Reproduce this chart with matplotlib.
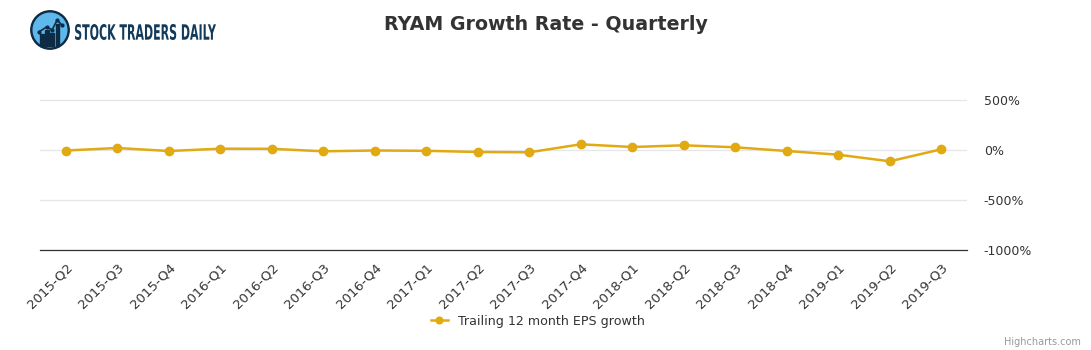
import matplotlib
matplotlib.use('Agg')
import matplotlib.pyplot as plt
from matplotlib.patches import Circle, Rectangle, PathPatch
from matplotlib.textpath import TextPath
from matplotlib.font_manager import FontProperties
from matplotlib.transforms import Affine2D
import numpy as np

## data
quarters = ['2015-Q2', '2015-Q3', '2015-Q4', '2016-Q1', '2016-Q2', '2016-Q3',
            '2016-Q4', '2017-Q1', '2017-Q2', '2017-Q3', '2017-Q4', '2018-Q1',
            '2018-Q2', '2018-Q3', '2018-Q4', '2019-Q1', '2019-Q2', '2019-Q3']
eps_growth = [-5, 20, -10, 13, 12, -13, -5, -8, -20, -23, 57, 30,
              47, 27, -10, -47, -113, 7]
y_ticks = [500, 0, -500, -1000]

line_color = '#e1aa13'
text_color = '#333333'

fig = plt.figure(figsize=(10.91, 3.5), dpi=100)
ax = fig.add_axes([40 / 1091, 100 / 350, 927 / 1091, 175 / 350])

x = np.arange(len(quarters))
ax.plot(x, eps_growth, color=line_color, lw=1.8, marker='o', ms=6,
        zorder=3, label='Trailing 12 month EPS growth')

ax.set_xlim(-0.5, len(quarters) - 0.5)
ax.set_ylim(-1000, 750)
ax.set_yticks(y_ticks)
ax.set_yticklabels(['%d%%' % v for v in y_ticks])
ax.yaxis.tick_right()
ax.tick_params(axis='y', length=0, pad=12, labelsize=9, labelcolor=text_color)
ax.set_xticks(x)
ax.set_xticklabels(quarters, rotation=45, ha='right', rotation_mode='anchor')
ax.tick_params(axis='x', length=0, pad=8, labelsize=9.5, labelcolor=text_color)
ax.grid(axis='y', color='#e6e6e6', lw=0.9)
ax.set_axisbelow(True)
for s in ['top', 'left', 'right']:
    ax.spines[s].set_visible(False)
ax.spines['bottom'].set_color('#333333')
ax.spines['bottom'].set_linewidth(0.9)

fig.text(0.5, 1 - 24 / 350, 'RYAM Growth Rate - Quarterly', ha='center', va='center',
         fontsize=13.7, fontweight='bold', color=text_color)

fig.legend(loc='center', bbox_to_anchor=(0.493, 1 - 321 / 350), frameon=False,
           fontsize=9.1, labelcolor=text_color, handlelength=1.4, markerscale=0.8)

fig.text(1 - 10 / 1091, 1 - 342 / 350, 'Highcharts.com', ha='right', va='center',
         fontsize=7, color='#999999')

# logo
lax = fig.add_axes([30 / 1091, 1 - 50 / 350, 40 / 1091, 40 / 350])
lax.set_xlim(0, 1)
lax.set_ylim(0, 1)
lax.set_aspect('equal')
lax.axis('off')
lax.add_patch(Circle((0.5, 0.5), 0.48, color='#0d2b45'))
lax.add_patch(Circle((0.5, 0.5), 0.42, color='#5fb8ec'))
for bx, bh in [(0.25, 0.3), (0.38, 0.4), (0.51, 0.32), (0.64, 0.55)]:
    lax.add_patch(Rectangle((bx, 0.1), 0.09, bh, color='#0d2b45'))
lax.plot([0.22, 0.42, 0.55, 0.68, 0.8], [0.45, 0.58, 0.5, 0.75, 0.62],
         color='#0d2b45', lw=1.2, marker='o', ms=2)

# logo text, squeezed horizontally to look condensed
tax = fig.add_axes([75 / 1091, 1 - 40 / 350, 141 / 1091, 16 / 350])
tax.axis('off')
tp = TextPath((0, 0), 'STOCK TRADERS DAILY', size=10,
              prop=FontProperties(family='DejaVu Sans', weight='bold'))
bb = tp.get_extents()
tp = tp.transformed(Affine2D().translate(-bb.x0, -bb.y0).scale(1 / bb.width, 1 / bb.height))
tax.add_patch(PathPatch(tp, color='#123a5a', lw=0))
tax.set_xlim(0, 1)
tax.set_ylim(0, 1)

fig.savefig('out.png', dpi=100)
